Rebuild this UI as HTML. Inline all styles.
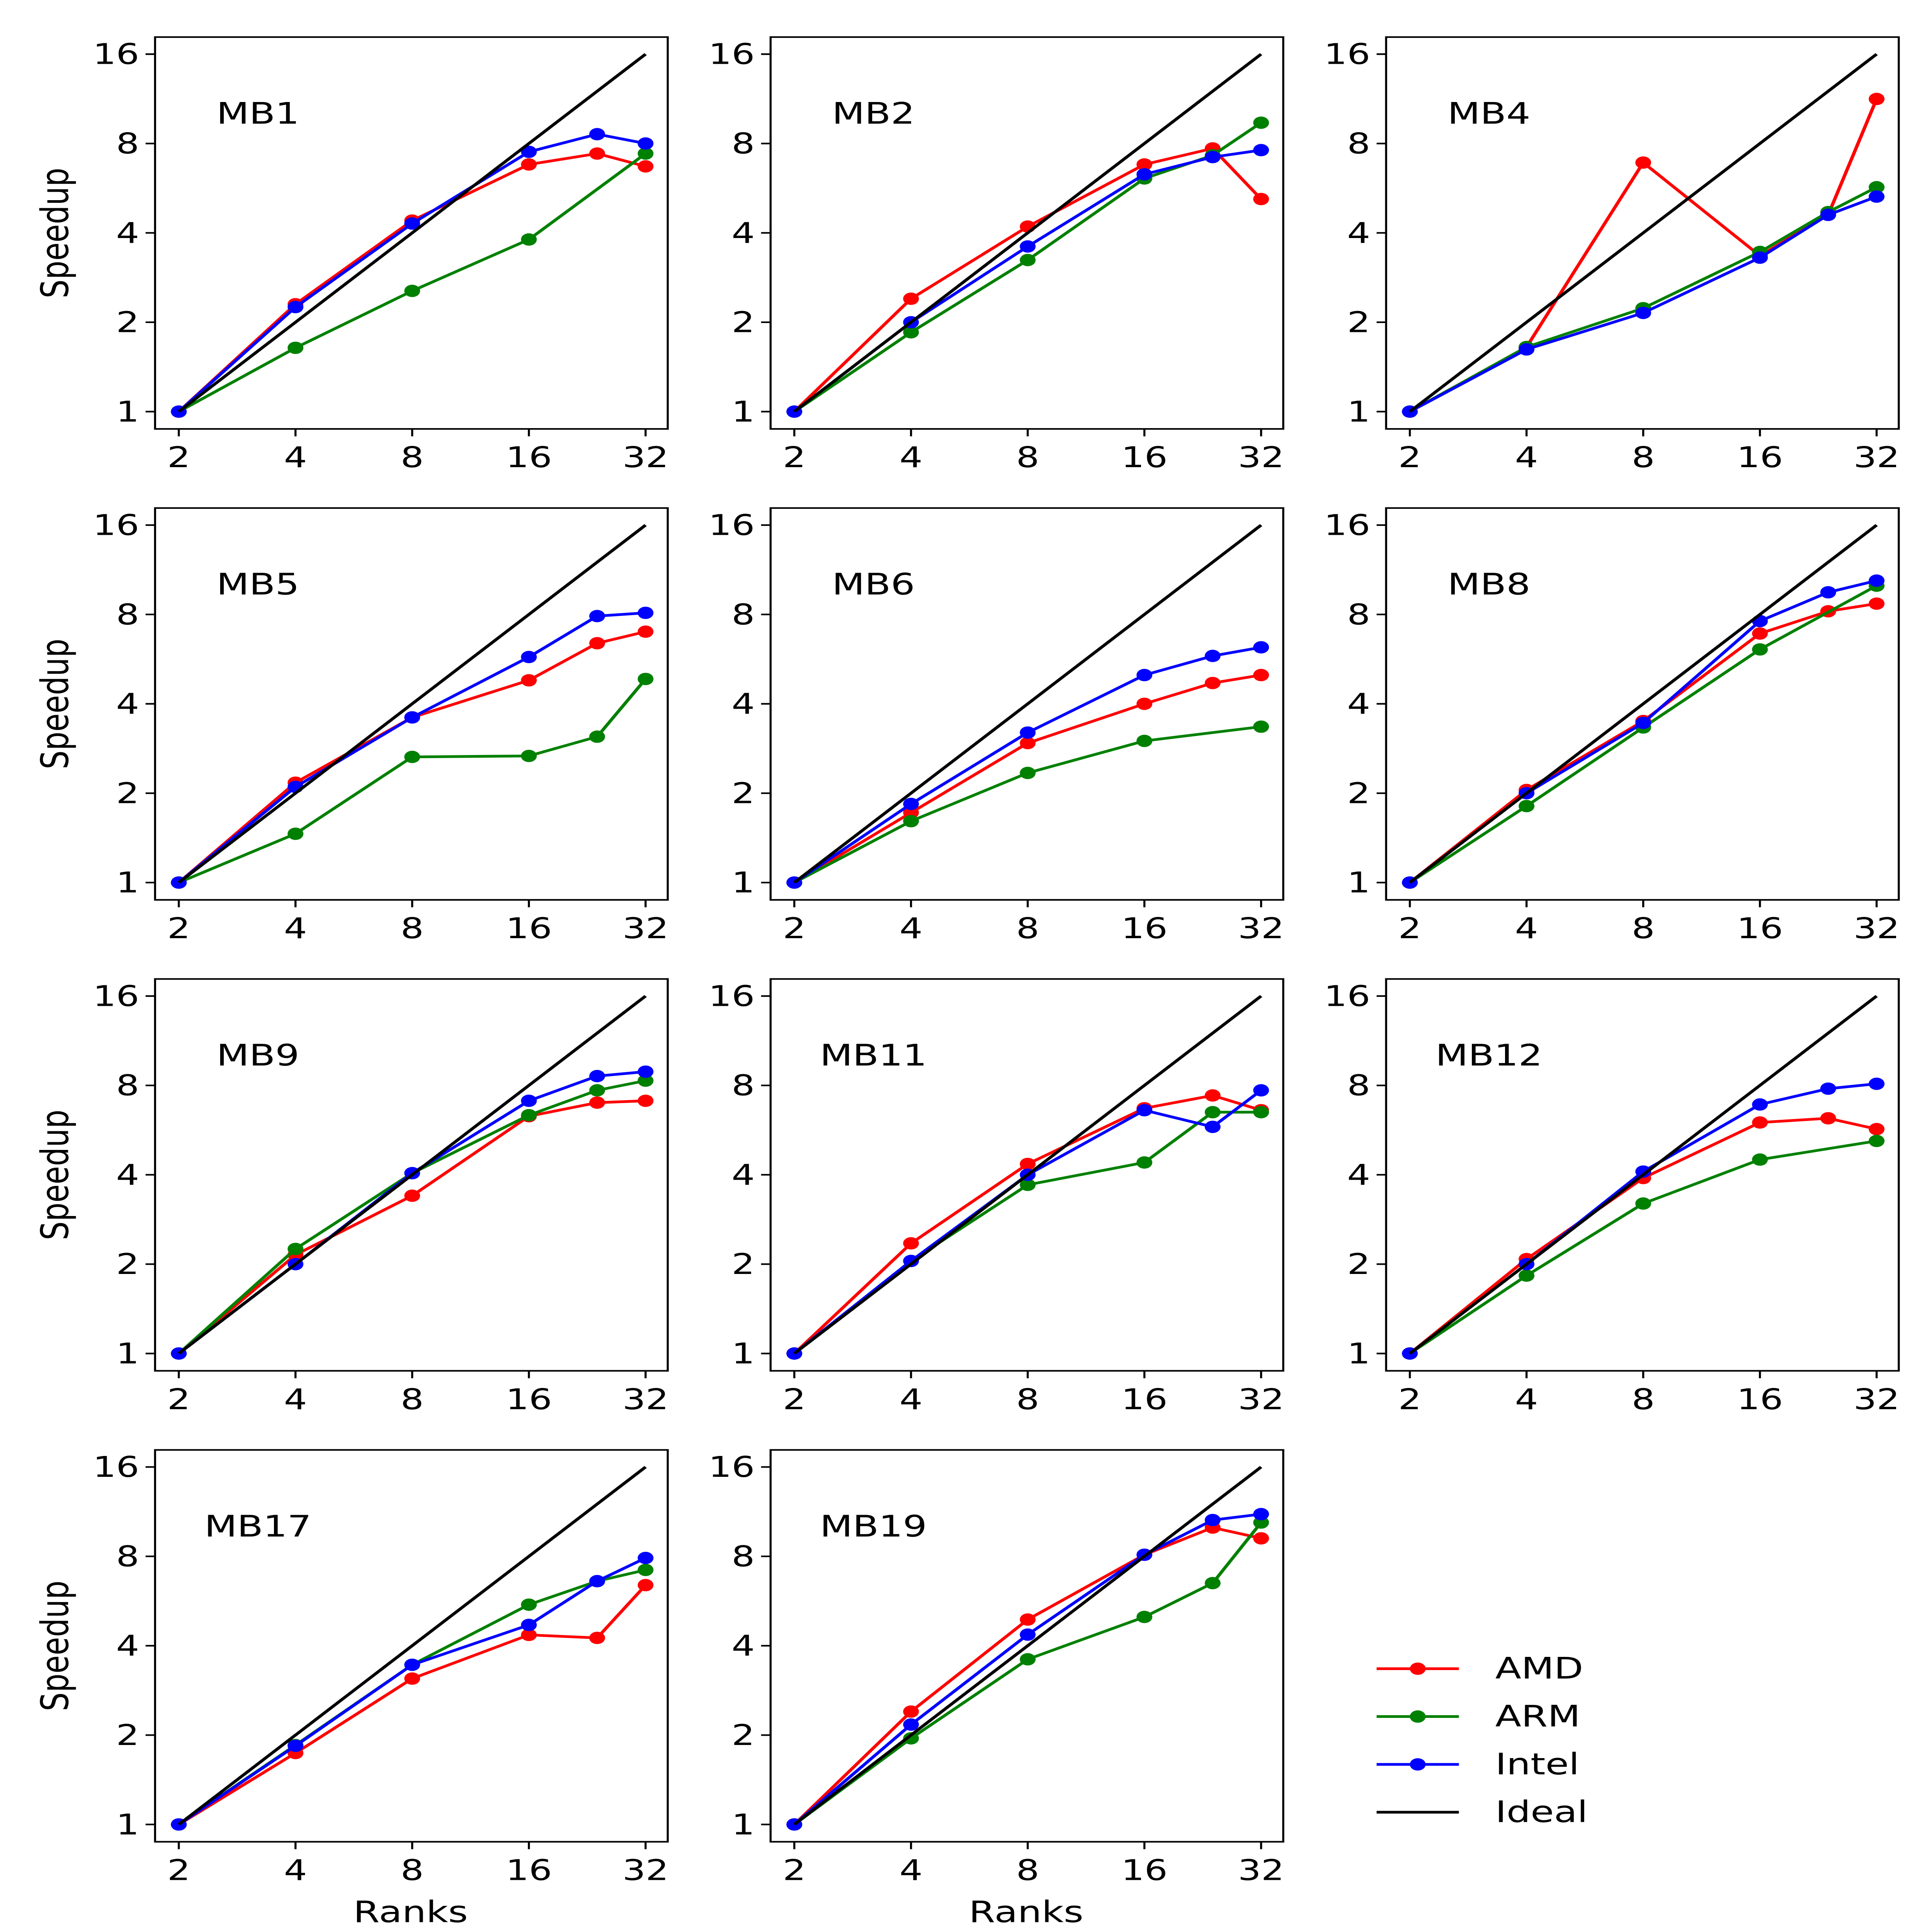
<!DOCTYPE html>
<html><head><meta charset="utf-8"><style>
html,body{margin:0;padding:0;background:#fff;width:100%;height:100%;overflow:hidden}
svg{display:block;width:100vw;height:100vh}
text{font-family:"DejaVu Sans","Liberation Sans",sans-serif;fill:#000}
</style></head><body>
<svg id="chart" viewBox="0 0 1221 1563" preserveAspectRatio="none" xmlns="http://www.w3.org/2000/svg"></svg>
<script>
const ranks = [2,4,8,16,24,32];
const titles = ["MB1","MB2","MB4","MB5","MB6","MB8","MB9","MB11","MB12","MB17","MB19"];
const amd = [
 [1,2.3,4.4,6.8,7.4,6.7],
 [1,2.4,4.2,6.8,7.7,5.2],
 [1,1.65,6.9,3.35,4.6,11.3],
 [1,2.17,3.6,4.8,6.4,7.0],
 [1,1.72,2.95,4.0,4.7,5.0],
 [1,2.05,3.5,6.9,8.2,8.7],
 [1,2.15,3.4,6.3,7.0,7.1],
 [1,2.35,4.35,6.7,7.4,6.6],
 [1,2.08,3.9,6.0,6.2,5.7],
 [1,1.74,3.1,4.35,4.25,6.4],
 [1,2.4,4.9,8.1,10.0,9.2]
];
const arm = [
 [1,1.64,2.55,3.8,null,7.4],
 [1,1.85,3.24,6.1,7.3,9.4],
 [1,1.65,2.23,3.45,4.7,5.7],
 [1,1.46,2.65,2.67,3.1,4.85],
 [1,1.61,2.34,3.0,null,3.35],
 [1,1.81,3.33,6.1,null,10.0],
 [1,2.25,4.05,6.35,7.7,8.3],
 [1,2.05,3.7,4.4,6.5,6.5],
 [1,1.83,3.2,4.5,null,5.2],
 [1,1.85,3.45,5.5,6.6,7.2],
 [1,1.95,3.6,5.0,6.5,10.4]
];
const intel = [
 [1,2.25,4.3,7.5,8.6,8.0],
 [1,2.0,3.6,6.3,7.2,7.6],
 [1,1.62,2.15,3.3,4.6,5.3],
 [1,2.1,3.6,5.75,7.9,8.1],
 [1,1.84,3.2,5.0,5.8,6.2],
 [1,2.0,3.45,7.6,9.5,10.4],
 [1,2.0,4.05,7.1,8.6,8.9],
 [1,2.05,4.0,6.6,5.8,7.7],
 [1,2.0,4.1,6.9,7.8,8.1],
 [1,1.84,3.45,4.7,6.6,7.9],
 [1,2.17,4.36,8.1,10.6,11.1]
];
const ideal = [1,2,4,8,12,16];
const yTicks = [1,2,4,8,16];
const xTicks = [2,4,8,16,32];

const svg = document.getElementById('chart');
const NS = "http://www.w3.org/2000/svg";
function mk(tag, attrs, parent){const e=document.createElementNS(NS,tag);for(const k in attrs)e.setAttribute(k,attrs[k]);(parent||svg).appendChild(e);return e;}
const colLeft=[98,487,876], rowTop=[30,411,792,1173];
const PW=324, PH=317;
function xs(c,v){return colLeft[c]+15+Math.log2(v/2)*73.75;}
function ys(r,v){return rowTop[r]+303-Math.log2(v)*72.3;}

titles.forEach((t,i)=>{
  const r=Math.floor(i/3), c=i%3;
  const g=mk('g',{});
  
  
  const fr=mk('rect',{x:colLeft[c],y:rowTop[r],width:PW,height:PH,fill:'none',stroke:'#000','stroke-width':1.3},g);
  
  
  yTicks.forEach(v=>{
    const y=ys(r,v);
    mk('line',{x1:colLeft[c]-6,x2:colLeft[c],y1:y,y2:y,stroke:'#000','stroke-width':1.3},g);
    const tx=mk('text',{x:colLeft[c]-10,y:y+8,'text-anchor':'end','font-size':23},g);
    tx.textContent=v;
    
    
  });
  xTicks.forEach(v=>{
    const x=xs(c,v);
    mk('line',{x1:x,x2:x,y1:rowTop[r]+PH,y2:rowTop[r]+PH+6,stroke:'#000','stroke-width':1.3},g);
    const tx=mk('text',{x:x,y:rowTop[r]+PH+31,'text-anchor':'middle','font-size':23},g);
    tx.textContent=v;
    
    
  });
  const tt=mk('text',{x:colLeft[c]+65,y:rowTop[r]+70,'text-anchor':'middle','font-size':24},g);
  tt.textContent=t;
  
  
  const series=[[amd[i],'#ff0000','amd'],[arm[i],'#008000','arm'],[intel[i],'#0000ff','intel']];
  series.forEach(([vals,col,nm])=>{
    const pts=[];
    vals.forEach((v,k)=>{if(v!=null)pts.push([xs(c,ranks[k]),ys(r,v)]);});
    const pl=mk('polyline',{points:pts.map(p=>p.join(',')).join(' '),fill:'none',stroke:col,'stroke-width':2.2},g);
    
    
    pts.forEach(p=>{
      const ci=mk('circle',{cx:p[0],cy:p[1],r:5,fill:col},g);
      
      
    });
  });
  const ip=[0,5].map(k=>[xs(c,ranks[k]),ys(r,ideal[k])]);
  const il=mk('line',{x1:ip[0][0],y1:ip[0][1],x2:ip[1][0],y2:ip[1][1],stroke:'#000','stroke-width':2.2},g);
  
  
  if(c===0){
    const yl=mk('text',{x:0,y:0,'text-anchor':'middle','font-size':24,transform:`translate(43,${rowTop[r]+PH/2}) rotate(-90)`},g);
    yl.textContent='Speedup';
    
    
  }
  if(r===3){
    const xl=mk('text',{x:colLeft[c]+PH/2+3,y:1555,'text-anchor':'middle','font-size':24},g);
    xl.textContent='Ranks';
    
    
  }
});
const leg=mk('g',{});


[['AMD','#ff0000',true],['ARM','#008000',true],['Intel','#0000ff',true],['Ideal','#000',false]].forEach(([n,col,m],k)=>{
  const y=1350+k*38.7;
  mk('line',{x1:870,x2:922,y1:y,y2:y,stroke:col,'stroke-width':2.2},leg);
  if(m)mk('circle',{cx:896,cy:y,r:5,fill:col},leg);
  const t=mk('text',{x:945,y:y+8,'font-size':24},leg);
  t.textContent=n;
  
  
});
</script>
</body></html>
